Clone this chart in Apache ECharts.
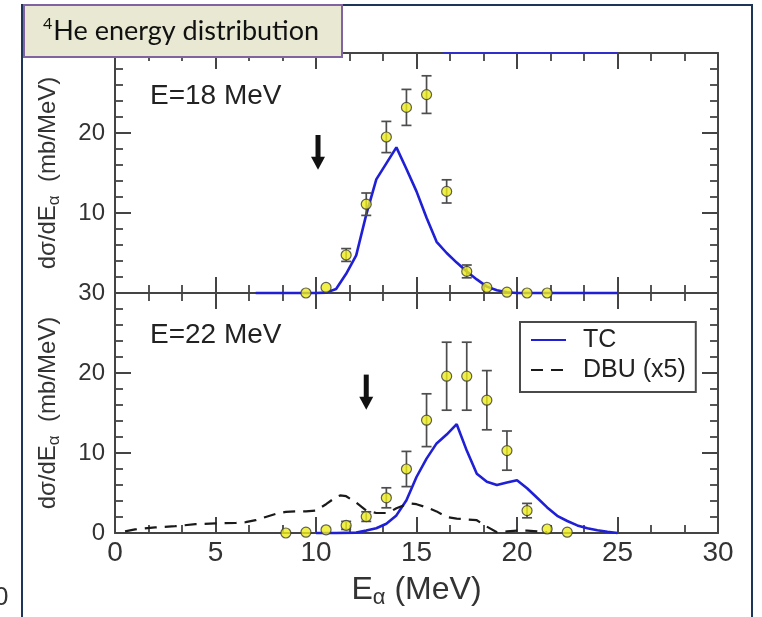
<!DOCTYPE html>
<html>
<head>
<meta charset="utf-8">
<script src="https://cdn.jsdelivr.net/npm/echarts@6/dist/echarts.min.js"></script>
<style>
  html, body { margin: 0; padding: 0; background: #ffffff; }
  #chart { width: 762px; height: 617px; }
</style>
</head>
<body>
<div id="chart"></div>
<script>
// Axis ticks (MeV on x, mb/MeV on y)
const xTickValues = [0, 5, 10, 15, 20, 25, 30];
const yTickValues = [0, 10, 20, 30];

// ---- E = 18 MeV ----
const e18Energy = [9.5, 10.5, 11.5, 12.5, 13.5, 14.5, 15.5, 16.5, 17.5, 18.5, 19.5, 20.5, 21.5];
const e18Value  = [0, 0.7, 4.75, 11.1, 19.5, 23.2, 24.8, 12.7, 2.7, 0.7, 0.1, 0, 0];
const e18Error  = [0, 0, 0.8, 1.4, 1.95, 2.25, 2.35, 1.45, 0.8, 0, 0, 0, 0];

const e18TcEnergy = [7, 8, 9, 10, 10.5, 11, 11.5, 12, 12.5, 13, 13.5, 14, 14.5, 15, 15.5, 16, 16.5, 17, 17.5, 18, 18.5, 19, 19.5, 20, 21, 22, 23, 24, 25];
const e18TcValue  = [0, 0, 0, 0, 0.05, 0.5, 2.4, 4.7, 9.8, 14.2, 16.2, 18.2, 15.5, 12.7, 9.4, 6.4, 5.0, 3.8, 2.7, 1.7, 0.8, 0.35, 0.1, 0, 0, 0, 0, 0, 0];

// trace running along the upper frame of this panel
const e18EdgeEnergy = [16.3, 25];
const e18EdgeValue  = [30, 30];

// threshold arrow: [energy, tail value, tip value]
const e18Arrow = [10.1, 19.75, 15.4];

// ---- E = 22 MeV ----
const e22Energy = [8.5, 9.5, 10.5, 11.5, 12.5, 13.5, 14.5, 15.5, 16.5, 17.5, 18.5, 19.5, 20.5, 21.5, 22.5];
const e22Value  = [0, 0.1, 0.4, 0.95, 2.05, 4.4, 8.0, 14.1, 19.6, 19.6, 16.6, 10.3, 2.8, 0.5, 0.1];
const e22Error  = [0, 0, 0, 0.5, 0.6, 1.25, 2.2, 3.3, 4.25, 4.25, 3.7, 2.45, 0.9, 0, 0];

const e22TcEnergy = [10, 11, 12, 12.5, 13, 13.5, 14, 14.5, 15, 15.5, 16, 16.5, 17, 17.5, 18, 18.5, 19, 19.5, 20, 20.5, 21, 21.5, 22, 22.5, 23, 23.5, 24, 24.5, 25];
const e22TcValue  = [0, 0, 0.05, 0.3, 0.6, 1.15, 2.2, 4.1, 7.0, 9.3, 11.2, 12.3, 13.6, 10.3, 7.4, 6.4, 6.0, 6.3, 6.6, 5.6, 4.4, 3.2, 2.15, 1.5, 0.95, 0.6, 0.35, 0.15, 0];

const e22DbuEnergy = [0.5, 1, 2, 3, 4, 5, 6, 6.5, 7, 7.5, 8, 8.5, 9, 9.5, 10, 10.5, 11, 11.2, 11.5, 12, 12.5, 13, 13.5, 13.8, 14, 14.5, 14.7, 15, 15.5, 16, 16.5, 17, 17.5, 18, 18.5, 19, 19.5, 20, 20.5, 21, 21.5];
const e22DbuValue  = [0.2, 0.45, 0.7, 0.85, 1.1, 1.2, 1.25, 1.35, 1.6, 2.0, 2.4, 2.65, 2.7, 2.7, 2.8, 3.6, 4.5, 4.7, 4.6, 3.8, 2.8, 2.5, 2.5, 2.8, 3.1, 3.6, 3.7, 3.6, 3.2, 2.7, 2.0, 1.8, 1.7, 1.6, 0.8, 0.1, 0.2, 0.3, 0.3, 0.2, 0.1];

const e22Arrow = [12.5, 19.8, 15.4];

// ---- helpers ----
const FONT = "'Liberation Sans', Arial, Helvetica, sans-serif";
const AXIS_COLOR = '#444444';
const TC_COLOR = '#1f1fd6';

const pairs = (xs, ys) => xs.map((x, i) => [x, ys[i]]);
const errorRows = (xs, ys, es) =>
  xs.map((x, i) => [x, ys[i] - es[i], ys[i] + es[i]]).filter((r, i) => es[i] > 0);

function renderErrorBar(params, api) {
  const x = api.value(0);
  const lo = api.coord([x, api.value(1)]);
  const hi = api.coord([x, api.value(2)]);
  const hw = 5;
  const style = { stroke: '#4d4d4d', lineWidth: 1.7 };
  return {
    type: 'group',
    children: [
      { type: 'line', shape: { x1: lo[0], y1: lo[1], x2: hi[0], y2: hi[1] }, style },
      { type: 'line', shape: { x1: lo[0] - hw, y1: lo[1], x2: lo[0] + hw, y2: lo[1] }, style },
      { type: 'line', shape: { x1: hi[0] - hw, y1: hi[1], x2: hi[0] + hw, y2: hi[1] }, style }
    ]
  };
}

function renderArrow(params, api) {
  const x = api.value(0);
  const tail = api.coord([x, api.value(1)]);
  const tip = api.coord([x, api.value(2)]);
  const headH = 13, headW = 14, shaft = 5;
  return {
    type: 'group',
    children: [
      { type: 'rect', shape: { x: tip[0] - shaft / 2, y: tail[1], width: shaft, height: tip[1] - headH - tail[1] + 1 }, style: { fill: '#111111' } },
      { type: 'polygon', shape: { points: [[tip[0] - headW / 2, tip[1] - headH], [tip[0] + headW / 2, tip[1] - headH], [tip[0], tip[1]]] }, style: { fill: '#111111' } }
    ]
  };
}

function xAxisDef(gridIndex, position, withLabels) {
  return {
    type: 'value', gridIndex, position, min: 0, max: 30, interval: 5,
    axisLine: { show: true, onZero: false, lineStyle: { color: AXIS_COLOR, width: 2 } },
    axisTick: { show: true, inside: true, length: 16, lineStyle: { color: AXIS_COLOR, width: 2 } },
    minorTick: { show: true, splitNumber: 3, length: 8, lineStyle: { color: AXIS_COLOR, width: 1.8 } },
    splitLine: { show: false },
    axisLabel: withLabels
      ? { show: true, margin: 6, fontSize: 28, color: '#333333', fontFamily: FONT, customValues: xTickValues }
      : { show: false }
  };
}

function yAxisDef(gridIndex, position, labelFilter) {
  return {
    type: 'value', gridIndex, position, min: 0, max: 30, interval: 10,
    axisLine: { show: true, onZero: false, lineStyle: { color: AXIS_COLOR, width: 2 } },
    axisTick: { show: true, inside: true, length: 16, lineStyle: { color: AXIS_COLOR, width: 2 } },
    minorTick: { show: true, splitNumber: 5, length: 8, lineStyle: { color: AXIS_COLOR, width: 1.8 } },
    splitLine: { show: false },
    axisLabel: labelFilter
      ? { show: true, margin: 10, fontSize: 24, color: '#333333', fontFamily: FONT,
          formatter: v => (labelFilter(v) ? String(v) : '') }
      : { show: false }
  };
}

const yTitle = {
  name: '{m|dσ/dE}{s|α}{m|  (mb/MeV)}',
  nameLocation: 'middle',
  nameGap: 52,
  nameTextStyle: {
    color: '#333333', fontFamily: FONT, fontSize: 24,
    rich: {
      m: { fontSize: 24, lineHeight: 30, fontFamily: FONT, color: '#333333', verticalAlign: 'middle' },
      s: { fontSize: 17, lineHeight: 17, fontFamily: FONT, color: '#333333', verticalAlign: 'bottom' }
    }
  }
};

const scatterStyle = { color: '#ecec1c', borderColor: '#3a3a3a', borderWidth: 1.2 };

const option = {
  animation: false,
  backgroundColor: '#ffffff',
  grid: [
    { left: 115, top: 53, width: 603, height: 240 },
    { left: 115, top: 293, width: 603, height: 240 }
  ],
  xAxis: [
    xAxisDef(0, 'bottom', false),
    xAxisDef(0, 'top', false),
    Object.assign(xAxisDef(1, 'bottom', true), {
      name: '{m|E}{s|α}{m| (MeV)}',
      nameLocation: 'middle',
      nameGap: 38,
      nameTextStyle: {
        color: '#333333', fontFamily: FONT, fontSize: 32,
        rich: {
          m: { fontSize: 32, lineHeight: 38, fontFamily: FONT, color: '#333333', verticalAlign: 'middle' },
          s: { fontSize: 22, lineHeight: 22, fontFamily: FONT, color: '#333333', verticalAlign: 'bottom' }
        }
      }
    }),
    xAxisDef(1, 'top', false)
  ],
  yAxis: [
    Object.assign(yAxisDef(0, 'left', v => v !== 0 && v !== 30), yTitle),
    yAxisDef(0, 'right', null),
    Object.assign(yAxisDef(1, 'left', () => true), yTitle),
    yAxisDef(1, 'right', null)
  ],
  legend: {
    data: ['TC', 'DBU (x5)'],
    orient: 'vertical',
    left: 520, top: 322,
    itemWidth: 35, itemHeight: 14, itemGap: 4,
    padding: [5, 10, 9, 10],
    borderColor: '#4a4a4a', borderWidth: 2, borderRadius: 0,
    backgroundColor: '#ffffff',
    selectedMode: false,
    itemStyle: { opacity: 0 },
    textStyle: { fontSize: 25, color: '#222222', fontFamily: FONT, lineHeight: 26, padding: [0, 0, 0, 12] }
  },
  graphic: [
    // outer frame
    { type: 'polyline', z: 100, silent: true,
      shape: { points: [[22, 617], [22, 5], [752, 5], [752, 617]] },
      style: { stroke: '#1d3657', lineWidth: 2, fill: null } },
    // heading box
    { type: 'rect', z: 110, silent: true,
      shape: { x: 24, y: 5, width: 318, height: 52 },
      style: { fill: '#e9e9d3', stroke: '#8064a2', lineWidth: 2 } },
    { type: 'text', z: 111, silent: true, x: 43, y: 31,
      style: {
        text: '{sup|4}{t|He energy distribution}',
        verticalAlign: 'middle',
        rich: {
          sup: { fontSize: 16, lineHeight: 30, fontFamily: 'Lato, sans-serif', fill: '#111111', verticalAlign: 'top', padding: [0, 1, 10, 0] },
          t: { fontSize: 27, lineHeight: 30, fontFamily: 'Lato, sans-serif', fill: '#111111', verticalAlign: 'middle' }
        }
      } },
    // panel labels
    { type: 'text', z: 50, silent: true, x: 150, y: 96,
      style: { text: 'E=18 MeV', fontSize: 28, fontFamily: FONT, fill: '#222222', verticalAlign: 'middle' } },
    { type: 'text', z: 50, silent: true, x: 150, y: 335,
      style: { text: 'E=22 MeV', fontSize: 28, fontFamily: FONT, fill: '#222222', verticalAlign: 'middle' } },
    // clipped tick label at the page edge
    { type: 'text', z: 50, silent: true, x: -6, y: 598,
      style: { text: '0', fontSize: 26, fontFamily: FONT, fill: '#333333', verticalAlign: 'middle' } }
  ],
  series: [
    // E = 18 MeV
    { name: 'TC', type: 'line', xAxisIndex: 0, yAxisIndex: 0, data: pairs(e18TcEnergy, e18TcValue),
      symbol: 'none', clip: false, z: 3, lineStyle: { color: TC_COLOR, width: 2.6 }, itemStyle: { color: TC_COLOR } },
    { name: 'TC edge', type: 'line', xAxisIndex: 0, yAxisIndex: 0, data: pairs(e18EdgeEnergy, e18EdgeValue),
      symbol: 'none', clip: false, z: 3, lineStyle: { color: '#3030c8', width: 2 } },
    { name: 'err18', type: 'custom', xAxisIndex: 0, yAxisIndex: 0, data: errorRows(e18Energy, e18Value, e18Error),
      renderItem: renderErrorBar, encode: { x: 0, y: [1, 2] }, z: 4, clip: false },
    { name: 'data18', type: 'scatter', xAxisIndex: 0, yAxisIndex: 0, data: pairs(e18Energy, e18Value),
      symbolSize: 10, itemStyle: scatterStyle, z: 5, clip: false },
    { name: 'arrow18', type: 'custom', xAxisIndex: 0, yAxisIndex: 0, data: [e18Arrow],
      renderItem: renderArrow, encode: { x: 0, y: [1, 2] }, z: 6 },

    // E = 22 MeV
    { name: 'TC', type: 'line', xAxisIndex: 2, yAxisIndex: 2, data: pairs(e22TcEnergy, e22TcValue),
      symbol: 'none', clip: false, z: 3, lineStyle: { color: TC_COLOR, width: 2.6 }, itemStyle: { color: TC_COLOR } },
    { name: 'DBU (x5)', type: 'line', xAxisIndex: 2, yAxisIndex: 2, data: pairs(e22DbuEnergy, e22DbuValue),
      symbol: 'none', clip: false, z: 3, lineStyle: { color: '#1a1a1a', width: 2.2, type: [12, 8] }, itemStyle: { color: '#1a1a1a' } },
    { name: 'err22', type: 'custom', xAxisIndex: 2, yAxisIndex: 2, data: errorRows(e22Energy, e22Value, e22Error),
      renderItem: renderErrorBar, encode: { x: 0, y: [1, 2] }, z: 4, clip: false },
    { name: 'data22', type: 'scatter', xAxisIndex: 2, yAxisIndex: 2, data: pairs(e22Energy, e22Value),
      symbolSize: 10, itemStyle: scatterStyle, z: 5, clip: false },
    { name: 'arrow22', type: 'custom', xAxisIndex: 2, yAxisIndex: 2, data: [e22Arrow],
      renderItem: renderArrow, encode: { x: 0, y: [1, 2] }, z: 6 }
  ]
};

const chart = echarts.init(document.getElementById('chart'), null, { renderer: 'canvas' });
chart.setOption(option);
</script>
</body>
</html>
